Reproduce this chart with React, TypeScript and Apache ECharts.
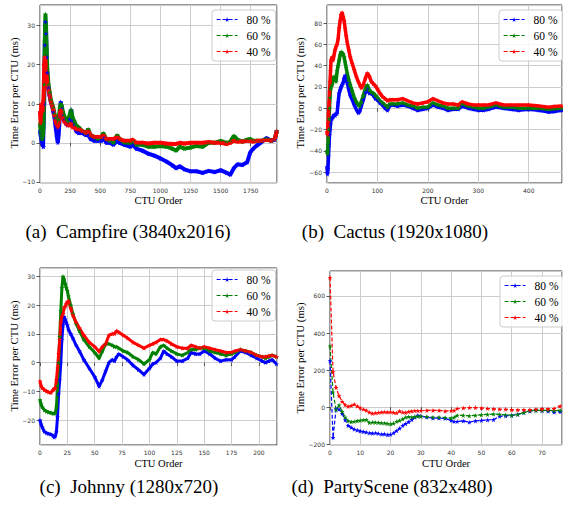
import React, { useEffect, useRef } from "react";
import * as echarts from "echarts";

const LEGEND_NAMES = ["80 %", "60 %", "40 %"];
const COLORS = ["#0000ff", "#008000", "#ff0000"];

// ---------- (a) Campfire ----------
const CAMPFIRE_X = [
  0, 5, 10, 15, 20, 25, 30, 35, 40, 45,
  50, 55, 60, 70, 80, 90, 100, 110, 120, 130,
  140, 148, 155, 165, 172, 180, 190, 200, 215, 230,
  245, 258, 270, 285, 300, 320, 350, 380, 400, 420,
  450, 480, 510, 525, 550, 580, 610, 640, 660, 700,
  750, 770, 800, 850, 900, 950, 1000, 1050, 1100, 1130,
  1160, 1200, 1250, 1300, 1350, 1400, 1450, 1500, 1550, 1580,
  1610, 1640, 1680, 1720, 1745, 1770, 1800, 1840, 1880, 1920,
  1950, 1966,
];
const CAMPFIRE_80 = [
  3, 2, 1, 0, 0.5, -1, -1, 10, 25, 31,
  28, 22, 18, 14, 12, 10.5, 9.5, 8, 6.5, 4,
  1.5, 0, 2, 7, 10.5, 9, 7, 6, 5, 4.5,
  6, 8.5, 5.5, 4.5, 3, 2.5, 2.5, 2, 2, 1,
  0.5, 0.5, 0.5, 1.5, 0, 0, -0.5, 0.5, 0, -0.5,
  -1, -0.5, -1.5, -2, -2.8, -3.3, -4, -4.8, -5.8, -6.5,
  -6, -6.8, -7.3, -7.3, -7.7, -7.2, -7.5, -7, -7.7, -8.2,
  -6.5, -5.5, -5.7, -5, -2.5, -1.5, -0.7, 0.2, 1.2, 0.5,
  0.8, 3,
];
const CAMPFIRE_60 = [
  5, 3, 2, 1, 1, 2, 5, 15, 26, 33,
  30, 24, 19, 15, 13, 11, 10, 9, 7.5, 6.5,
  5.5, 5, 6, 9, 10, 9.5, 8, 7, 6, 5.5,
  7, 8.5, 6.5, 5.5, 4.5, 4, 3, 2.5, 3.5, 2,
  1.5, 1, 1.5, 2.5, 1, 0.5, 0, 2, 1, 0,
  0, 0.5, -0.5, -0.5, -1, -1, -0.8, -1, -1.5, -2,
  -1, -1.5, -1.2, -0.8, -1, 0, 0, 0.5, 0, 0.3,
  1.8, 0.8, 0.3, 0.8, 1, 0.5, 0.5, 0.5, 1, 0.5,
  1, 3,
];
const CAMPFIRE_40 = [
  8, 5, 10, 10, 8, 10, 12, 20, 22, 21,
  19, 17, 15.5, 13.5, 12, 10.5, 9.5, 8.5, 7, 5.5,
  4.5, 4, 5, 7, 8.5, 8, 6.5, 5.5, 5, 4.5,
  4.5, 5, 4, 4, 3.5, 3.5, 3, 2.5, 3, 2,
  1.5, 1.5, 1.5, 2, 1, 1, 1, 1.5, 1, 0.5,
  0.5, 0.8, 0, 0, -0.2, 0, 0, -0.2, -0.3, -0.3,
  0, -0.2, 0, 0, 0, 0.2, 0, 0, -0.3, 0,
  0.5, 0.3, 0.3, 0.5, 0.5, 0.3, 0.5, 0.5, 0.8, 0.5,
  1, 3,
];

// ---------- (b) Cactus ----------
const CACTUS_X = [
  0, 1, 2, 3, 4, 5, 6, 7, 8, 10,
  12, 14, 16, 18, 20, 22, 24, 26, 28, 30,
  32, 34, 36, 38, 40, 43, 46, 50, 54, 58,
  62, 65, 68, 72, 76, 80, 84, 88, 92, 96,
  100, 105, 110, 115, 120, 125, 130, 140, 150, 160,
  170, 180, 190, 200, 210, 220, 230, 240, 250, 260,
  268, 280, 290, 300, 310, 320, 335, 350, 365, 380,
  400, 420, 440, 450, 466,
];
const CACTUS_80 = [
  -55, -62, -57, -45, -35, -25, -20, -15, -10, -10,
  -8, -6, -7, -5, -5, 5, 14, 17, 20, 22,
  24, 28, 31, 27, 24, 18, 12, 8, 3, -1,
  -4.5, -3, 2, 8, 15, 18, 14, 14, 12, 9,
  8, 5, 3, 0, -2, 3, 3, 2, 3, 2,
  0, -2, -1, 0, 3, 1, 0, -2, -1, -1,
  2, 0, -1, -2, -2, -1, 1, 0, -1, -2,
  -1, -2, -3.5, -3, -2,
];
const CACTUS_60 = [
  -40, -43, -35, -20, -10, 0, 10, 18, 20, 22,
  27, 30, 28, 25, 35, 40, 45, 50, 53, 52,
  51, 48, 43, 38, 33, 27, 22, 16, 10, 6,
  3, 2, 6, 12, 18, 22, 17, 15, 14, 12,
  10, 7, 5, 3, 1, 4, 4, 4, 5, 3,
  2, 0, 1, 1, 5, 3, 2, 0, 0, 0,
  4, 2, 1, 0, 0, 1, 3, 1, 1, 0,
  0, 0, -1, -0.5, 0,
];
const CACTUS_40 = [
  -22, -25, -15, -5, 5, 15, 25, 35, 45, 48,
  45, 50, 55, 58, 60, 65, 75, 82, 88, 90,
  86, 82, 75, 68, 62, 55, 48, 42, 36, 30,
  25, 22, 19, 22, 28, 33, 30, 25, 23, 21,
  18, 14, 11, 9, 7, 8, 8, 8, 9, 7,
  5, 4, 5, 6, 9, 7, 5, 4, 4, 3,
  6, 4, 3, 3, 3, 3, 5, 3, 3, 3,
  3, 2, 1, 1.5, 2,
];

// ---------- (c) Johnny ----------
const JOHNNY_X = [
  0, 1, 2, 4, 6, 8, 10, 12, 13, 14,
  15, 16, 17, 18, 19, 20, 21, 22, 23, 24,
  25, 26, 28, 30, 33, 36, 40, 45, 50, 54,
  57, 60, 63, 66, 68, 70, 72, 76, 80, 85,
  90, 95, 100, 103, 106, 110, 113, 116, 120, 125,
  130, 135, 138, 142, 146, 150, 155, 160, 165, 170,
  175, 178, 183, 188, 193, 198, 203, 206, 209, 212,
  216,
];
const JOHNNY_80 = [
  -20, -21.5, -22.5, -24, -24.5, -24.8, -25, -25.5, -26, -25.5,
  -24, -19, -11, -6, 0, 8, 13, 16, 15, 14,
  13, 11.5, 10, 8.5, 6, 4, 1, -2, -5, -8.3,
  -6, -3, 0, 1, 0.5, 2, 3, 2, 1, -1,
  -2.5, -4.2, -2, -0.5, 0, 1.5, 4, 3, 2, 0.5,
  0.5, 1.5, 3.5, 3, 3, 4, 3, 1.5, 0.5, 1,
  1, 2, 4, 3.5, 2.5, 1.5, 0.5, 0, 0.5, 1,
  -0.5,
];
const JOHNNY_60 = [
  -13, -14.5, -15.5, -16.5, -17, -17.3, -17.5, -17.7, -17.7, -17.5,
  -15.5, -8, 0, 9, 18, 26, 30, 29, 27.5, 26,
  25, 23, 20, 17, 13.5, 11, 8, 5.5, 3.5, 1.5,
  4, 6.5, 6.5, 6, 5.5, 5.5, 5, 4, 3.5, 2,
  1, -0.5, 1, 3.5, 3, 5.5, 6, 5, 4, 3,
  2.5, 3.5, 4.5, 4.5, 5, 5, 4, 3.5, 3, 2.5,
  3, 3.5, 4.5, 4, 3.5, 2.5, 2, 1.5, 2, 2.5,
  2,
];
const JOHNNY_40 = [
  -6.5, -8, -8.8, -9.5, -10, -10.3, -10.5, -9.5, -9, -9,
  -6, -2, 3, 8, 14, 16, 17, 19, 19.5, 20.5,
  21, 21.5, 19, 16.5, 14, 12, 9.5, 7, 5.5, 3.8,
  5.5, 6.5, 9.5, 10, 10, 11, 10.5, 9.5, 8.5, 7,
  6, 5, 6, 6.5, 7, 8, 8, 7.5, 6.5, 5.5,
  5, 5, 6, 5.5, 5, 5.5, 5, 4.5, 4, 3.5,
  3.5, 4, 4.5, 4, 3.5, 2.5, 2, 2, 2.3, 2.5,
  2,
];

// ---------- (d) PartyScene ----------
const PARTY_X = [
  0, 1, 2, 3, 4, 5, 6, 7, 8, 9,
  10, 11, 12, 13, 14, 15, 16, 17, 18, 19,
  20, 21, 22, 23, 24, 25, 26, 27, 28, 29,
  30, 32, 34, 36, 38, 40, 41, 42, 44, 46,
  48, 50, 52, 54, 56, 58, 60, 62, 64, 66,
  68, 70, 72, 74, 76,
];
const PARTY_80 = [
  250, -165, -10, -12, -35, -70, -100, -110, -120, -125,
  -130, -133, -136, -140, -142, -140, -143, -147, -146, -150,
  -148, -140, -128, -115, -100, -90, -80, -68, -55, -45,
  -50, -55, -60, -60, -62, -72, -78, -78, -75, -82,
  -75, -72, -70, -68, -50, -48, -45, -40, -30, -22,
  -18, -20, -22, -28, -25,
];
const PARTY_60 = [
  330, 80, -15, 10, -25, -55, -75, -80, -78, -75,
  -72, -70, -68, -85, -82, -83, -84, -86, -87, -90,
  -92, -88, -78, -72, -65, -55, -52, -55, -52, -50,
  -50, -52, -55, -55, -57, -60, -55, -45, -45, -48,
  -45, -42, -40, -38, -40, -42, -45, -40, -30, -20,
  -18, -18, -18, -20, -18,
];
const PARTY_40 = [
  700, 190, 105, 60, 30, 12, 3, 8, 15, 5,
  -5, -12, -18, -28, -35, -32, -30, -28, -27, -28,
  -27, -30, -32, -22, -28, -30, -25, -22, -20, -20,
  -20, -18, -18, -18, -22, -20, -18, -8, -5, -3,
  -3, -5, -8, -10, -12, -12, -15, -15, -15, -15,
  -12, -10, -10, -8, 5,
];

const CAPTIONS = [
  "(a)  Campfire (3840x2016)",
  "(b)  Cactus (1920x1080)",
  "(c)  Johnny (1280x720)",
  "(d)  PartyScene (832x480)",
];
const X_NAME = "CTU Order";
const Y_NAME = "Time Error per CTU (ms)";

const STAR =
  "path://M0,-10L2.245,-3.09L9.511,-3.09L3.633,1.18L5.878,8.09L0,3.82L-5.878,8.09L-3.633,1.18L-9.511,-3.09L-2.245,-3.09Z";

const zip = (xs: number[], ys: number[]) => xs.map((x, i) => [x, ys[i]]);
const fmt = (v: number) => String(v).replace("-", "\u2212");

const TICK = { show: true, length: 3.5, lineStyle: { color: "#333", width: 0.8 } };
const SPLIT = { show: true, lineStyle: { color: "#cccccc", width: 1 } };
const LABEL = { fontFamily: "DejaVu Sans", fontSize: 6, color: "#333", formatter: fmt };

function xAxis(gridIndex: number, max: number, interval: number) {
  return {
    type: "value", gridIndex, min: 0, max, interval,
    axisLine: { show: false }, axisTick: TICK, splitLine: SPLIT,
    axisLabel: { ...LABEL, margin: 4, showMaxLabel: false },
  };
}
function yAxis(gridIndex: number, min: number, max: number, splitNumber: number) {
  return {
    type: "value", gridIndex, min, max, splitNumber,
    axisLine: { show: false }, axisTick: TICK, splitLine: SPLIT,
    axisLabel: { ...LABEL, margin: 5, showMinLabel: false, showMaxLabel: false },
  };
}

function series(idx: number, ys: number[][], xs: number[], width: number, dashed: boolean) {
  return ys.map((y, k) => ({
    type: "line", name: LEGEND_NAMES[k], xAxisIndex: idx, yAxisIndex: idx,
    data: zip(xs, y), symbol: STAR, symbolSize: 5, showSymbol: true,
    lineStyle: { color: COLORS[k], width, type: dashed ? [4, 2] : "solid" },
    itemStyle: { color: COLORS[k] }, silent: true, emphasis: { disabled: true },
  }));
}

function legend(left: number, top: number) {
  return {
    orient: "vertical", left, top, data: LEGEND_NAMES, selectedMode: false,
    itemWidth: 21, itemHeight: 6, itemGap: 4, padding: [3.5, 5, 3.5, 4],
    backgroundColor: "rgba(255,255,255,0.85)", borderColor: "#cccccc", borderWidth: 1, borderRadius: 3,
    textStyle: { fontFamily: "Liberation Serif", fontSize: 11.5, color: "#000", lineHeight: 11, padding: [0, 0, 0, 4] },
    lineStyle: { width: 1.2, type: [4, 2] },
  };
}

function txt(text: string, x: number, y: number, size: number, rot = 0) {
  return {
    type: "text", x, y, rotation: rot, silent: true,
    style: { text, fontFamily: "Liberation Serif", fontSize: size, fill: "#000", align: "center", verticalAlign: "middle" },
  };
}

export default function App() {
  const ref = useRef<HTMLDivElement>(null);
  useEffect(() => {
    if (!ref.current) return;
    const chart = echarts.init(ref.current, undefined, { renderer: "svg" });
    const gridBase = { show: true, borderColor: "#333", borderWidth: 1, backgroundColor: "transparent" };
    chart.setOption({
      animation: false,
      grid: [
        { ...gridBase, left: 40, top: 5, width: 237, height: 178 },
        { ...gridBase, left: 327, top: 5, width: 235, height: 178 },
        { ...gridBase, left: 40, top: 268, width: 237, height: 177 },
        { ...gridBase, left: 330, top: 271, width: 232, height: 174 },
      ],
      xAxis: [xAxis(0, 1968, 250), xAxis(1, 466, 100), xAxis(2, 216.5, 25), xAxis(3, 76.6, 10)],
      yAxis: [yAxis(0, -10.3, 35.3, 5), yAxis(1, -70.3, 97, 8), yAxis(2, -28.7, 32.9, 6), yAxis(3, -205, 735, 5)],
      legend: [legend(212, 10), legend(499, 10), legend(212, 270), legend(500, 276)],
      series: [
        ...series(0, [CAMPFIRE_80, CAMPFIRE_60, CAMPFIRE_40], CAMPFIRE_X, 4, false),
        ...series(1, [CACTUS_80, CACTUS_60, CACTUS_40], CACTUS_X, 3.5, false),
        ...series(2, [JOHNNY_80, JOHNNY_60, JOHNNY_40], JOHNNY_X, 3, false),
        ...series(3, [PARTY_80, PARTY_60, PARTY_40], PARTY_X, 1.2, true),
      ],
      graphic: [
        txt(Y_NAME, 14, 93, 10.8, Math.PI / 2),
        txt(Y_NAME, 300, 93, 10.8, Math.PI / 2),
        txt(Y_NAME, 14, 356, 10.8, Math.PI / 2),
        txt(Y_NAME, 300, 358, 10.8, Math.PI / 2),
        txt(X_NAME, 158.5, 200, 10.5),
        txt(X_NAME, 444.5, 200, 10.5),
        txt(X_NAME, 158.5, 463, 10.5),
        txt(X_NAME, 446, 463, 10.5),
        txt(CAPTIONS[0], 128, 231, 19),
        txt(CAPTIONS[1], 395, 231, 19),
        txt(CAPTIONS[2], 129, 486, 19),
        txt(CAPTIONS[3], 392, 486, 19),
      ],
    });
    return () => chart.dispose();
  }, []);
  return <div ref={ref} style={{ position: "absolute", left: 0, top: 0, width: 563, height: 508 }} />;
}
